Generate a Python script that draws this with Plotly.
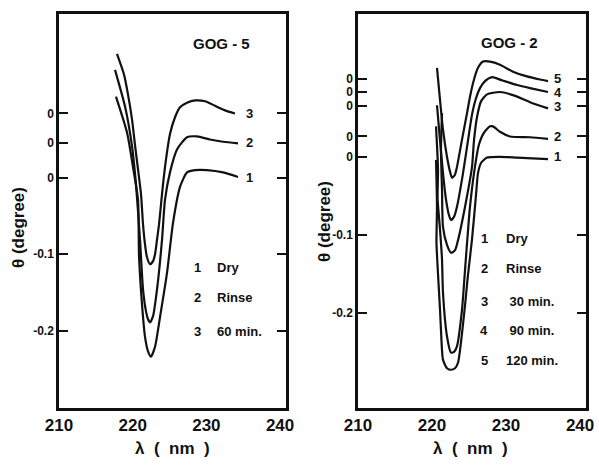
import plotly.graph_objects as go

# ---------------- data: GOG-5 (left panel) ----------------
g5_c1_nm = [217.73, 219.23, 220.04, 220.72, 220.86, 221.40, 221.67, 222.08, 222.48, 223.03, 223.71,
            224.66, 225.47, 226.42, 227.37, 228.46, 230.08, 232.26, 234.29]
g5_c1_th = [0.106, 0.059, 0.014, -0.029, -0.103, -0.182, -0.208, -0.227, -0.234, -0.221, -0.182,
            -0.124, -0.059, -0.012, 0.007, 0.010, 0.010, 0.007, 0.001]
g5_c2_nm = [217.60, 218.96, 219.91, 220.45, 220.99, 221.40, 221.81, 222.08, 222.35, 222.76, 223.30,
            223.98, 224.38, 225.06, 226.01, 227.37, 228.73, 230.49, 232.26, 234.29]
g5_c2_th = [0.095, 0.047, -0.005, -0.055, -0.127, -0.192, -0.221, -0.231, -0.235, -0.227, -0.192,
            -0.127, -0.075, -0.039, -0.009, 0.007, 0.008, 0.004, 0.001, -0.001]
g5_c3_nm = [217.87, 218.82, 219.36, 219.91, 220.31, 220.72, 221.13, 221.40, 221.67, 221.94, 222.35,
            222.76, 223.03, 223.30, 223.57, 223.84, 224.11, 224.52, 225.06, 225.74, 226.42, 227.37,
            228.46, 229.81, 231.17, 232.53, 233.88]
g5_c3_th = [0.078, 0.051, 0.025, -0.008, -0.041, -0.073, -0.106, -0.145, -0.171, -0.188, -0.197,
            -0.193, -0.184, -0.165, -0.145, -0.119, -0.093, -0.060, -0.027, -0.005, 0.008, 0.014,
            0.017, 0.016, 0.010, 0.004, 0.000]
g5_offsets = [0.0, 0.046, 0.084]
g5_curve_labels = ["1", "2", "3"]
g5_legend_num = ["1", "2", "3"]
g5_legend_txt = ["Dry", "Rinse", "60 min."]

# ---------------- data: GOG-2 (right panel) ----------------
g2_c1_nm = [220.54, 220.67, 220.60, 220.80, 221.08, 221.21, 221.48, 222.02, 222.56, 223.10, 223.51,
            224.46, 224.86, 225.40, 225.94, 226.21, 226.62, 227.43, 229.18, 231.48, 235.67]
g2_c1_th = [-0.004, -0.064, -0.110, -0.149, -0.196, -0.222, -0.260, -0.271, -0.273, -0.271, -0.264,
            -0.190, -0.151, -0.106, -0.049, -0.021, -0.008, -0.001, 0.000, -0.001, -0.003]
g2_c2_nm = [220.54, 220.81, 220.75, 221.08, 221.35, 221.48, 222.02, 222.56, 222.97, 223.37, 224.05,
            224.46, 225.13, 225.81, 226.35, 227.02, 227.83, 228.24, 229.18, 230.54, 233.24, 235.67]
g2_c2_th = [0.013, -0.042, -0.080, -0.119, -0.158, -0.200, -0.256, -0.277, -0.276, -0.269, -0.222,
            -0.171, -0.090, -0.038, -0.010, 0.005, 0.013, 0.013, 0.006, 0.000, -0.001, -0.003]
g2_c3_nm = [221.35, 221.21, 221.35, 221.48, 222.02, 222.56, 223.10, 223.51, 224.46, 225.40, 225.67,
            226.08, 226.62, 227.43, 229.18, 230.94, 233.24, 235.67]
g2_c3_th = [-0.009, -0.056, -0.108, -0.155, -0.178, -0.188, -0.185, -0.172, -0.129, -0.078, -0.044,
            -0.014, 0.006, 0.015, 0.018, 0.014, 0.005, -0.003]
g2_c4_nm = [220.67, 221.08, 221.48, 221.89, 222.29, 222.56, 222.97, 223.37, 224.19, 224.86, 225.40,
            225.94, 226.48, 227.16, 228.10, 229.45, 231.48, 233.24, 235.67]
g2_c4_th = [-0.017, -0.062, -0.104, -0.138, -0.158, -0.164, -0.160, -0.147, -0.104, -0.062, -0.029,
            -0.008, 0.005, 0.014, 0.019, 0.015, 0.009, 0.005, 0.000]
g2_c5_nm = [220.67, 221.08, 221.48, 222.02, 222.43, 222.70, 223.10, 223.37, 224.05, 224.73, 225.13,
            225.67, 226.21, 226.89, 227.83, 229.18, 230.94, 232.83, 234.59, 235.67]
g2_c5_th = [0.014, -0.027, -0.065, -0.100, -0.119, -0.127, -0.123, -0.113, -0.078, -0.044, -0.023,
            -0.001, 0.014, 0.022, 0.022, 0.018, 0.009, 0.003, -0.001, -0.003]
g2_offsets = [0.0, 0.026, 0.065, 0.083, 0.100]
g2_curve_labels = ["1", "2", "3", "4", "5"]
g2_legend_num = ["1", "2", "3", "4", "5"]
g2_legend_txt = ["Dry", "Rinse", " 30 min.", " 90 min.", "120 min."]

# ---------------- axes ----------------
x_ticks = [210, 220, 230, 240]
x_range = [210, 240.8]
g5_yticks = [-0.2, -0.1, 0.0, 0.046, 0.084]
g5_ytext = ["-0.2", "-0.1", "0", "0", "0"]
g2_yticks = [-0.2, -0.1, 0.0, 0.026, 0.065, 0.083, 0.100]
g2_ytext = ["-0.2", "-0.1", "0", "0", "0", "0", "0"]

FONT = "Liberation Sans"
BLACK = "#111111"
W, H = 599, 469

fig = go.Figure()

g5 = [(g5_c1_nm, g5_c1_th), (g5_c2_nm, g5_c2_th), (g5_c3_nm, g5_c3_th)]
g2 = [(g2_c1_nm, g2_c1_th), (g2_c2_nm, g2_c2_th), (g2_c3_nm, g2_c3_th),
      (g2_c4_nm, g2_c4_th), (g2_c5_nm, g2_c5_th)]

for (xs, ys), off in zip(g5, g5_offsets):
    fig.add_trace(go.Scatter(x=xs, y=[v + off for v in ys], mode="lines",
                             line=dict(color=BLACK, width=2.2, shape="spline", smoothing=0.6),
                             xaxis="x", yaxis="y", showlegend=False, hoverinfo="skip"))
for (xs, ys), off in zip(g2, g2_offsets):
    fig.add_trace(go.Scatter(x=xs, y=[v + off for v in ys], mode="lines",
                             line=dict(color=BLACK, width=2.2, shape="spline", smoothing=0.6),
                             xaxis="x2", yaxis="y2", showlegend=False, hoverinfo="skip"))


def bold(size):
    return dict(family=FONT, size=size, color=BLACK, weight="bold")


annots = []
# curve number labels at right end of each curve
for lab, off in zip(g5_curve_labels, g5_offsets):
    annots.append(dict(x=235.9, y=off, xref="x", yref="y", text=lab, showarrow=False,
                       xanchor="center", yanchor="middle", font=bold(13)))
for lab, off in zip(g2_curve_labels, g2_offsets):
    annots.append(dict(x=237.0, y=off, xref="x2", yref="y2", text=lab, showarrow=False,
                       xanchor="center", yanchor="middle", font=bold(13)))

# panel titles
annots.append(dict(x=232.0, y=0.176, xref="x", yref="y", text="GOG - 5", showarrow=False,
                   xanchor="center", yanchor="middle", font=bold(15)))
annots.append(dict(x=230.4, y=0.146, xref="x2", yref="y2", text="GOG - 2", showarrow=False,
                   xanchor="center", yanchor="middle", font=bold(15)))

# legend text blocks (paper coordinates)
g5_leg_y = [267, 297, 331]
for n, t, py in zip(g5_legend_num, g5_legend_txt, g5_leg_y):
    annots.append(dict(x=197 / W, y=1 - py / H, xref="paper", yref="paper", text=n, showarrow=False,
                       xanchor="center", yanchor="middle", font=bold(13)))
    annots.append(dict(x=215 / W, y=1 - py / H, xref="paper", yref="paper", text=t, showarrow=False,
                       xanchor="left", yanchor="middle", font=bold(13)))
g2_leg_y = [239, 268, 301, 330, 360]
for n, t, py in zip(g2_legend_num, g2_legend_txt, g2_leg_y):
    annots.append(dict(x=484 / W, y=1 - py / H, xref="paper", yref="paper", text=n, showarrow=False,
                       xanchor="center", yanchor="middle", font=bold(13)))
    annots.append(dict(x=504 / W, y=1 - py / H, xref="paper", yref="paper", text=t, showarrow=False,
                       xanchor="left", yanchor="middle", font=bold(13)))

# axis titles
for cx in [172, 470]:
    annots.append(dict(x=cx / W, y=1 - 448 / H, xref="paper", yref="paper", text="λ  (  nm  )",
                       showarrow=False, xanchor="center", yanchor="middle", font=bold(17)))
for cx, cy in [(18, 228), (325, 222)]:
    annots.append(dict(x=cx / W, y=1 - cy / H, xref="paper", yref="paper", text="θ (degree)",
                       textangle=-90, showarrow=False, xanchor="center", yanchor="middle",
                       font=bold(17)))

xcommon = dict(range=x_range, tickvals=x_ticks, ticks="", showgrid=False, zeroline=False,
               showline=True, linecolor=BLACK, linewidth=2.5, mirror=True, automargin=False,
               tickfont=bold(17))
ycommon = dict(ticks="inside", ticklen=9, tickwidth=2, tickcolor=BLACK, showgrid=False,
               zeroline=False, showline=True, linecolor=BLACK, linewidth=2.5, mirror="ticks",
               automargin=False, tickfont=bold(12))

ydom = [1 - 408 / H, 1 - 14 / H]
fig.update_layout(
    width=W, height=H, margin=dict(l=0, r=0, t=0, b=0, autoexpand=False),
    paper_bgcolor="white", plot_bgcolor="white", showlegend=False,
    xaxis=dict(domain=[59 / W, 286 / W], anchor="y", **xcommon),
    yaxis=dict(domain=ydom, anchor="x", range=[-0.301, 0.214], tickvals=g5_yticks,
               ticktext=g5_ytext, **ycommon),
    xaxis2=dict(domain=[358 / W, 586 / W], anchor="y2", **xcommon),
    yaxis2=dict(domain=ydom, anchor="x2", range=[-0.322, 0.183], tickvals=g2_yticks,
                ticktext=g2_ytext, **ycommon),
    annotations=annots,
)

fig.write_html("out.html")
